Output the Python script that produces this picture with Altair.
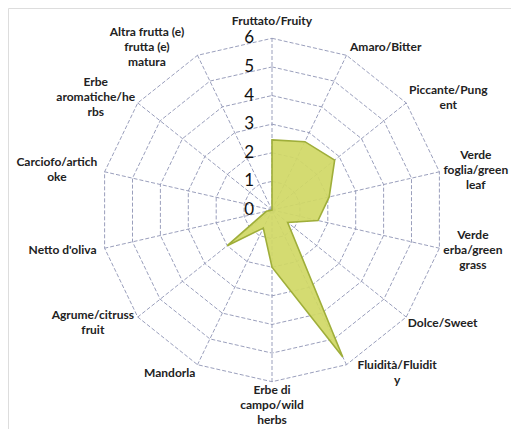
import altair as alt
import pandas as pd
import numpy as np

# ---- data ----
categories = [
    "Fruttato/Fruity", "Amaro/Bitter", "Piccante/Pung\nent",
    "Verde\nfoglia/green\nleaf", "Verde\nerba/green\ngrass", "Dolce/Sweet",
    "Fluidità/Fluidit\ny", "Erbe di\ncampo/wild\nherbs", "Mandorla",
    "Agrume/citruss\nfruit", "Netto d'oliva", "Carciofo/artich\noke",
    "Erbe\naromatiche/he\nrbs", "Altra frutta (e)\nfrutta (e)\nmatura",
]
values = [2.45, 2.65, 2.8, 2.05, 1.65, 0.7, 5.7, 2.0, 0.7, 2.0, 0.2, 0.0, 0.0, 0.0]
tick_values = [0, 1, 2, 3, 4, 5, 6]

# ---- geometry ----
N = len(categories)
RMAX = 6
W, H = 503, 421
CX, CY = 264, 202          # centre in chart pixels
K = 171.7 / RMAX           # pixels per unit
LH = 15                    # label line height
CW = 5.7                   # approx char width of labels

ang = 2 * np.pi * np.arange(N) / N
s, c = np.sin(ang), np.cos(ang)

xdom = [-CX / K, (W - CX) / K]
ydom = [-(H - CY) / K, CY / K]
xs = alt.Scale(domain=xdom, nice=False, zero=False)
ys = alt.Scale(domain=ydom, nice=False, zero=False)

# rings
ring_rows = []
for r in tick_values[1:]:
    for i in range(N):
        ring_rows.append({"ring": r, "idx": i, "x": s[i] * r, "y": c[i] * r})
rings = pd.DataFrame(ring_rows)

spokes = pd.DataFrame({"x": 0.0, "y": 0.0, "x2": s * RMAX, "y2": c * RMAX})

poly = pd.DataFrame({"idx": np.arange(N), "x": s * np.array(values), "y": c * np.array(values)})

# category labels
lab_rows = []
for i, t in enumerate(categories):
    lines = t.split("\n")
    n = len(lines)
    w = max(len(l) for l in lines) * CW
    h = n * LH
    ex, ey = s[i] * RMAX * K, -c[i] * RMAX * K
    if abs(s[i]) < 0.1:
        lx = ex
        gap = 10 if c[i] > 0 else 1
        ly = ey - np.sign(c[i]) * (h / 2 + gap)
    else:
        lx = ex + np.sign(s[i]) * (w / 2 + 5)
        ly = ey - c[i] * 9
    # keep inside the drawing
    lx = min(lx, W - CX - w / 2 - 1)
    lx = max(lx, -CX + w / 2 + 1)
    ly -= (n - 1) * LH / 2      # vega places the first line at the anchor
    lab_rows.append({"x": lx / K, "y": -ly / K, "text": t})
labels = pd.DataFrame(lab_rows)

ticks = pd.DataFrame({"x": [-18 / K] * len(tick_values), "y": tick_values,
                      "t": [str(v) for v in tick_values]})

grid_col = "#8e94b4"

ring_layer = alt.Chart(rings).mark_line(
    interpolate="linear-closed", stroke=grid_col, strokeWidth=0.9, strokeDash=[4, 2]
).encode(x=alt.X("x:Q", scale=xs, axis=None), y=alt.Y("y:Q", scale=ys, axis=None),
         detail="ring:N", order="idx:Q")

spoke_layer = alt.Chart(spokes).mark_rule(
    stroke=grid_col, strokeWidth=0.9, strokeDash=[4, 2]
).encode(x=alt.X("x:Q", scale=xs, axis=None), y=alt.Y("y:Q", scale=ys, axis=None),
         x2="x2:Q", y2="y2:Q")

poly_layer = alt.Chart(poly).mark_line(
    interpolate="linear-closed", fill="#d0d865", fillOpacity=0.92,
    stroke="#9fae3a", strokeWidth=1.6
).encode(x=alt.X("x:Q", scale=xs, axis=None), y=alt.Y("y:Q", scale=ys, axis=None),
         order="idx:Q")

label_layer = alt.Chart(labels).mark_text(
    font="Lato", fontSize=12, fontWeight="bold", color="#222222",
    lineBreak="\n", lineHeight=LH, align="center", baseline="middle"
).encode(x=alt.X("x:Q", scale=xs, axis=None), y=alt.Y("y:Q", scale=ys, axis=None),
         text="text:N")

tick_layer = alt.Chart(ticks).mark_text(
    font="Lato", fontSize=17, color="#111111", align="right", baseline="middle"
).encode(x=alt.X("x:Q", scale=xs, axis=None), y=alt.Y("y:Q", scale=ys, axis=None),
         text="t:N")

chart = alt.layer(ring_layer, spoke_layer, poly_layer, label_layer, tick_layer).properties(
    width=W, height=H, padding=0, autosize=alt.AutoSizeParams(type="none")
).configure_view(stroke=None).configure(background="white")

chart.save("out.html", embed_options={"renderer": "svg", "actions": False})
